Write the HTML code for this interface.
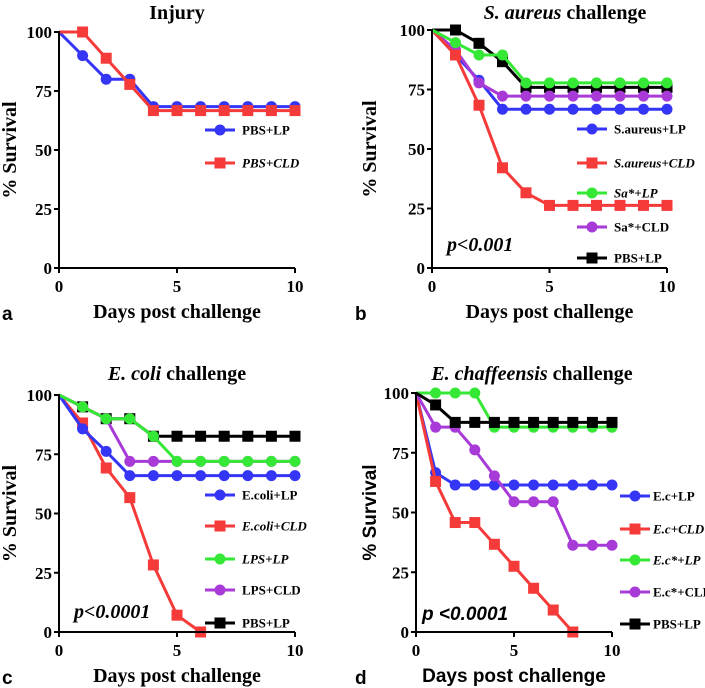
<!DOCTYPE html>
<html><head><meta charset="utf-8"><style>
body{margin:0;background:#fff;width:705px;height:688px;overflow:hidden}
svg{display:block}
.tk{font-family:"Liberation Serif",serif;font-weight:bold;font-size:17px}
.ti{font-family:"Liberation Serif",serif;font-weight:bold;font-size:20px}
.lg{font-family:"Liberation Serif",serif;font-weight:bold;font-size:13px}
.pl{font-family:"Liberation Sans",sans-serif;font-weight:bold;font-size:19px}
</style></head><body>
<svg id="fig" width="705" height="688" viewBox="0 0 705 688"></svg>
<script>
const days = [0,1,2,3,4,5,6,7,8,9,10];
const yTicks = [0,25,50,75,100];
const xTicks = [0,5,10];
// Panel a
const aNames = ["PBS+LP","PBS+CLD"];
const aBlue = [100,90,80,80,68.4,68.4,68.4,68.4,68.4,68.4,68.4];
const aRed = [100,100,88.9,77.8,66.7,66.7,66.7,66.7,66.7,66.7,66.7];
// Panel b
const bNames = ["S.aureus+LP","S.aureus+CLD","Sa*+LP","Sa*+CLD","PBS+LP"];
const bBlue = [100,89.5,78.9,66.7,66.7,66.7,66.7,66.7,66.7,66.7,66.7];
const bRed = [100,89.5,68.4,42.1,31.6,26.3,26.3,26.3,26.3,26.3,26.3];
const bGreen = [100,94.7,89.5,89.5,77.8,77.8,77.8,77.8,77.8,77.8,77.8];
const bPurple = [100,91.7,77.8,72.2,72.2,72.2,72.2,72.2,72.2,72.2,72.2];
const bBlack = [100,100,94.4,86.7,75.9,75.9,75.9,75.9,75.9,75.9,75.9];
// Panel c
const cNames = ["E.coli+LP","E.coli+CLD","LPS+LP","LPS+CLD","PBS+LP"];
const cBlue = [100,85.7,76.2,66,66,66,66,66,66,66,66];
const cRed = [100,88.2,69.2,56.7,28.3,7.1,0];
const cGreen = [100,95,90,90,82.6,72,72,72,72,72,72];
const cPurple = [100,95,90,72,72,72,72,72,72,72,72];
const cBlack = [100,95,90,90,82.6,82.6,82.6,82.6,82.6,82.6,82.6];
// Panel d
const dNames = ["E.c+LP","E.c+CLD","E.c*+LP","E.c*+CLD","PBS+LP"];
const dBlue = [100,66.7,61.5,61.5,61.5,61.5,61.5,61.5,61.5,61.5,61.5];
const dRed = [100,63,45.8,45.8,36.7,27.5,18.3,9.2,0];
const dGreen = [100,100,100,100,85.7,85.7,85.7,85.7,85.7,85.7,85.7];
const dPurple = [100,85.7,85.7,76.2,65.3,54.5,54.5,54.5,36.3,36.3,36.3];
const dBlack = [100,95,87.7,87.7,87.7,87.7,87.7,87.7,87.7,87.7,87.7];

const C={blue:"#3535f5",red:"#f53a3a",green:"#35e835",purple:"#a83ad8",black:"#000"};
const NS="http://www.w3.org/2000/svg";
const svg=document.getElementById("fig");
function mk(tag,attrs,parent,text){const e=document.createElementNS(NS,tag);for(const k in attrs)e.setAttribute(k,attrs[k]);if(text!==undefined)e.textContent=text;(parent||svg).appendChild(e);return e;}

function panel(p){
  const g=mk("g",{});
  
  
  const xs=v=>p.x0+(p.x1-p.x0)*v/10, ys=v=>p.y0+(p.y1-p.y0)*(100-v)/100;
  const t=mk("text",{x:p.tx,y:p.ty,"text-anchor":"middle",class:"ti"},g);
  
  
  if(p.it){mk("tspan",{"font-style":"italic"},t,p.it);mk("tspan",{},t,p.rest);}else t.textContent=p.rest;
  const order=p.order||p.series.map((_,i)=>i);
  order.forEach(i=>{const s=p.series[i];
    const pts=s.v.map((v,j)=>xs(days[j])+","+ys(v)).join(" ");
    const l=mk("polyline",{points:pts,fill:"none",stroke:s.c,"stroke-width":3,"stroke-linejoin":"round"},g);
    
    
    s.v.forEach((v,j)=>{if(j===0)return;
      const m=s.sq?mk("rect",{x:xs(days[j])-5.5,y:ys(v)-5.5,width:11,height:11,fill:s.c},g):mk("circle",{cx:xs(days[j]),cy:ys(v),r:5.5,fill:s.c},g);
      
      
    });
  });
  p.series.forEach((s,i)=>{
    const ly=p.ly[i];
    const ll=mk("line",{x1:p.lx-15,x2:p.lx+15,y1:ly,y2:ly,stroke:s.c,"stroke-width":3},g);
    
    
    const lm=s.sq?mk("rect",{x:p.lx-5.5,y:ly-5.5,width:11,height:11,fill:s.c},g):mk("circle",{cx:p.lx,cy:ly,r:5.5,fill:s.c},g);
    
    
    const lt=mk("text",{x:p.lx+(p.lgap||22),y:ly+4.5,class:"lg","font-style":s.i?"italic":"normal"},g,s.n);
    
    
  });
  const ax=mk("path",{d:`M${p.x0},${p.y0-1}V${p.y1}H${p.x1}`,fill:"none",stroke:"#000","stroke-width":2},g);
  
  
  yTicks.forEach(v=>{mk("line",{x1:p.x0-5,x2:p.x0,y1:ys(v),y2:ys(v),stroke:"#000","stroke-width":2},g);
    const tt=mk("text",{x:p.x0-7,y:ys(v)+6,"text-anchor":"end",class:"tk"},g,v);
    
    });
  xTicks.forEach(v=>{mk("line",{x1:xs(v),x2:xs(v),y1:p.y1,y2:p.y1+5,stroke:"#000","stroke-width":2},g);
    const tt=mk("text",{x:xs(v),y:p.y1+24,"text-anchor":"middle",class:"tk"},g,v);
    
    });
  const xt=mk("text",{x:(p.x0+p.x1)/2,y:p.y1+50,"text-anchor":"middle",class:p.sans?"pl":"ti"},g,"Days post challenge");
  
  
  const cy=(p.y0+p.y1)/2;
  const yt=mk("text",{x:p.ylx,y:cy,"text-anchor":"middle",class:p.sans?"pl":"ti",transform:`rotate(-90 ${p.ylx} ${cy})`},g,"% Survival");
  
  
  const lab=mk("text",{x:p.labx,y:p.y1+52,class:"pl"},g,p.id);
  
  
  if(p.pv){const pv=mk("text",{x:p.pvx,y:p.pvy,class:p.sans?"pl":"ti","font-style":"italic"},g,p.pv);
    
    }
}
panel({id:"a",x0:59,x1:295,y0:32,y1:268,tx:177,ty:19,rest:"Injury",lx:220,ly:[130,163],ylx:16,labx:2,
  series:[{n:aNames[0],v:aBlue,c:C.blue},{n:aNames[1],v:aRed,c:C.red,sq:1,i:1}]});
panel({id:"b",x0:432,x1:667,y0:30,y1:268,tx:565,ty:19,it:"S. aureus",rest:" challenge",lx:592,ly:[129,163,193,227,258],ylx:376,labx:355,pv:"p<0.001",pvx:447,pvy:251,
  order:[4,0,3,1,2],
  series:[{n:bNames[0],v:bBlue,c:C.blue},{n:bNames[1],v:bRed,c:C.red,sq:1,i:1},{n:bNames[2],v:bGreen,c:C.green,i:1},{n:bNames[3],v:bPurple,c:C.purple},{n:bNames[4],v:bBlack,c:C.black,sq:1}]});
panel({id:"c",x0:59,x1:295,y0:395,y1:632,tx:177,ty:380,it:"E. coli",rest:" challenge",lx:220,ly:[495,526,559,590,623],ylx:16,labx:2,pv:"p<0.0001",pvx:74,pvy:618,
  order:[4,3,1,0,2],
  series:[{n:cNames[0],v:cBlue,c:C.blue},{n:cNames[1],v:cRed,c:C.red,sq:1,i:1},{n:cNames[2],v:cGreen,c:C.green,i:1},{n:cNames[3],v:cPurple,c:C.purple},{n:cNames[4],v:cBlack,c:C.black,sq:1}]});
panel({id:"d",x0:416,x1:612,y0:393,y1:632,tx:532,ty:380,it:"E. chaffeensis",rest:" challenge",lx:635,lgap:18,ly:[496,529,560,592,624],ylx:376,labx:355,pv:"p <0.0001",pvx:422,pvy:620,sans:1,
  series:[{n:dNames[0],v:dBlue,c:C.blue},{n:dNames[1],v:dRed,c:C.red,sq:1,i:1},{n:dNames[2],v:dGreen,c:C.green,i:1},{n:dNames[3],v:dPurple,c:C.purple},{n:dNames[4],v:dBlack,c:C.black,sq:1}]});
</script>
</body></html>
